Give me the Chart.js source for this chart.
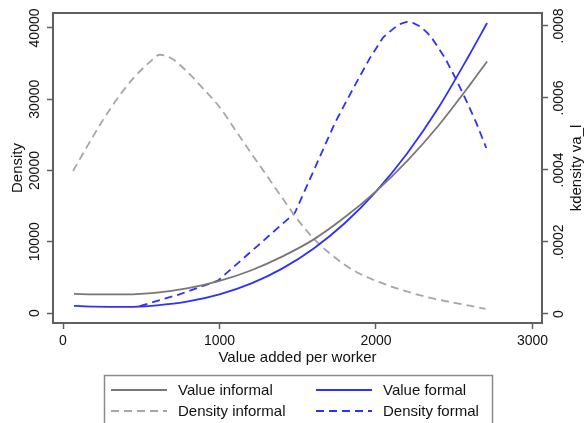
<!DOCTYPE html>
<html lang="en">
<head>
  <meta charset="UTF-8">
  <title>Value added per worker</title>
  <style>
    html, body { margin: 0; padding: 0; background: #fff; }
  </style>
</head>
<body>
<canvas id="myChart" width="588" height="423"></canvas>

<script src="https://cdn.jsdelivr.net/npm/chart.js"></script>
<script>
  // x positions (value added per worker) of the fitted value curves
  const valueX = [70, 200, 400, 600, 800, 1000, 1200, 1400, 1600, 1800, 2000, 2200, 2400, 2600, 2710];
  const valueInformal = [2680, 2620, 2610, 2860, 3480, 4500, 5970, 7920, 10300, 13430, 17080, 21360, 26320, 32010, 35300];
  const valueFormal = [1000, 900, 860, 1070, 1620, 2610, 4120, 6230, 9030, 12600, 17040, 22420, 28830, 36350, 40700];

  // kdensity, informal firms
  const densInfX = [64, 150, 250, 350, 450, 550, 620, 700, 800, 900, 1000, 1100, 1200, 1300, 1400, 1500, 1600, 1700, 1800, 1900, 2000, 2100, 2200, 2300, 2400, 2500, 2600, 2700];
  const densInformal = [0.000397, 0.000462, 0.000535, 0.000600, 0.000655, 0.000698, 0.000720, 0.000708, 0.000670, 0.000624, 0.000575, 0.000512, 0.000448, 0.000386, 0.000323, 0.000262, 0.000210, 0.000170, 0.000137, 0.000111, 0.000092, 0.000076, 0.000062, 0.000050, 0.000040, 0.000031, 0.000023, 0.000014];

  // kdensity, formal firms
  const densForX = [490, 740, 990, 1240, 1482, 1738, 1800, 1885, 1960, 2045, 2110, 2150, 2195, 2240, 2285, 2330, 2364, 2440, 2513, 2580, 2641, 2705];
  const densFormal = [0.000022, 0.000054, 0.0000925, 0.000188, 0.000281, 0.000531, 0.000582, 0.000651, 0.000710, 0.000768, 0.000792, 0.000805, 0.000811, 0.000808, 0.000798, 0.000780, 0.000762, 0.000712, 0.000651, 0.000590, 0.000531, 0.000461];

  // tick labels
  const xTicks = [0, 1000, 2000, 3000];
  const leftTicks = [0, 10000, 20000, 30000, 40000];
  const rightTicks = [0, 0.0002, 0.0004, 0.0006, 0.0008];
  const rightTickLabels = ['0', '.0002', '.0004', '.0006', '.0008'];

  const seriesLabels = ['Value informal', 'Value formal', 'Density informal', 'Density formal'];

  const FONT = '"Liberation Sans", Arial, Helvetica, sans-serif';
  Chart.defaults.font.family = FONT;
  Chart.defaults.color = '#111';

  function toPoints(xs, ys) {
    return xs.map((x, i) => ({x: x, y: ys[i]}));
  }

  const GRAY = '#777777';
  const LIGHT_GRAY = '#a6a6a6';
  const BLUE = '#2f2fff';
  const FRAME = '#5f5f5f';

  // plot frame top edge, right axis title and the boxed legend
  const stataExtras = {
    id: 'stataExtras',
    afterDraw(chart) {
      const ctx = chart.ctx;
      const a = chart.chartArea;
      ctx.save();
      ctx.strokeStyle = FRAME;
      ctx.lineWidth = 2;
      ctx.beginPath();
      ctx.moveTo(a.left - 1, a.top);
      ctx.lineTo(a.right + 1, a.top);
      ctx.stroke();

      ctx.fillStyle = '#111';
      ctx.font = '15px ' + FONT;
      ctx.textAlign = 'center';
      ctx.textBaseline = 'middle';
      ctx.translate(577, (a.top + a.bottom) / 2);
      ctx.rotate(-Math.PI / 2);
      ctx.fillText('kdensity va_l', 0, 0);
      ctx.restore();

      // legend
      ctx.save();
      ctx.strokeStyle = '#8a8a8a';
      ctx.lineWidth = 1.5;
      ctx.strokeRect(104.5, 375.5, 388, 60);
      const colX = [111, 316];
      const rowY = [390, 411];
      ctx.font = '15px ' + FONT;
      ctx.textAlign = 'left';
      ctx.textBaseline = 'middle';
      chart.data.datasets.forEach((ds, i) => {
        const x = colX[i % 2];
        const y = rowY[Math.floor(i / 2)];
        ctx.strokeStyle = ds.borderColor;
        ctx.lineWidth = ds.borderWidth;
        ctx.setLineDash(ds.borderDash || []);
        ctx.beginPath();
        ctx.moveTo(x, y);
        ctx.lineTo(x + 56, y);
        ctx.stroke();
        ctx.setLineDash([]);
        ctx.fillStyle = '#111';
        ctx.fillText(ds.label, x + 67, y + 1);
      });
      ctx.restore();
    }
  };

  const ctx = document.getElementById('myChart');

  const myChart = new Chart(ctx, {
    type: 'line',
    data: {
      datasets: [
        {
          label: seriesLabels[0],
          data: toPoints(valueX, valueInformal),
          yAxisID: 'y',
          borderColor: GRAY,
          borderWidth: 1.8,
          pointRadius: 0,
          cubicInterpolationMode: 'monotone'
        },
        {
          label: seriesLabels[1],
          data: toPoints(valueX, valueFormal),
          yAxisID: 'y',
          borderColor: BLUE,
          borderWidth: 1.8,
          pointRadius: 0,
          cubicInterpolationMode: 'monotone'
        },
        {
          label: seriesLabels[2],
          data: toPoints(densInfX, densInformal),
          yAxisID: 'y1',
          borderColor: LIGHT_GRAY,
          borderWidth: 1.8,
          borderDash: [8, 5],
          pointRadius: 0,
          cubicInterpolationMode: 'monotone'
        },
        {
          label: seriesLabels[3],
          data: toPoints(densForX, densFormal),
          yAxisID: 'y1',
          borderColor: BLUE,
          borderWidth: 1.8,
          borderDash: [8, 5],
          pointRadius: 0,
          tension: 0
        }
      ]
    },
    options: {
      responsive: false,
      maintainAspectRatio: false,
      animation: false,
      layout: {
        padding: {top: 13, left: 0, right: 0, bottom: 55}
      },
      plugins: {
        legend: {display: false},
        tooltip: {enabled: false}
      },
      scales: {
        x: {
          type: 'linear',
          min: -64,
          max: 3061,
          afterBuildTicks: (s) => { s.ticks = xTicks.map(v => ({value: v})); },
          afterFit: (s) => { s.height = 45; },
          ticks: {
            autoSkip: false,
            maxRotation: 0,
            padding: 4,
            font: {size: 14},
            color: '#111',
            callback: (v) => String(v)
          },
          grid: {
            drawOnChartArea: false,
            drawTicks: true,
            tickLength: 6,
            tickColor: FRAME,
            tickWidth: 1.5
          },
          border: {display: true, color: FRAME, width: 2},
          title: {
            display: true,
            text: 'Value added per worker',
            font: {size: 15},
            color: '#111',
            padding: {top: 0, bottom: 1}
          }
        },
        y: {
          type: 'linear',
          position: 'left',
          min: -1400,
          max: 42100,
          afterBuildTicks: (s) => { s.ticks = leftTicks.map(v => ({value: v})); },
          afterFit: (s) => { s.width = 53; },
          ticks: {
            autoSkip: false,
            minRotation: 90,
            maxRotation: 90,
            crossAlign: 'center',
            padding: -8,
            font: {size: 14},
            color: '#111',
            callback: (v) => String(v)
          },
          grid: {
            drawOnChartArea: false,
            drawTicks: true,
            tickLength: 6,
            tickColor: FRAME,
            tickWidth: 1.5
          },
          border: {display: true, color: FRAME, width: 2},
          title: {
            display: true,
            text: 'Density',
            font: {size: 15},
            color: '#111',
            padding: {top: 9, bottom: 0}
          }
        },
        y1: {
          type: 'linear',
          position: 'right',
          min: -0.000025,
          max: 0.000836,
          afterBuildTicks: (s) => { s.ticks = rightTicks.map(v => ({value: v})); },
          afterFit: (s) => { s.width = 46; },
          ticks: {
            autoSkip: false,
            minRotation: 90,
            maxRotation: 90,
            crossAlign: 'center',
            padding: -6,
            font: {size: 14},
            color: '#111',
            callback: (v, i) => rightTickLabels[i]
          },
          grid: {
            drawOnChartArea: false,
            drawTicks: true,
            tickLength: 6,
            tickColor: FRAME,
            tickWidth: 1.5
          },
          border: {display: true, color: FRAME, width: 2}
        }
      }
    },
    plugins: [stataExtras]
  });
</script>
</body>
</html>
